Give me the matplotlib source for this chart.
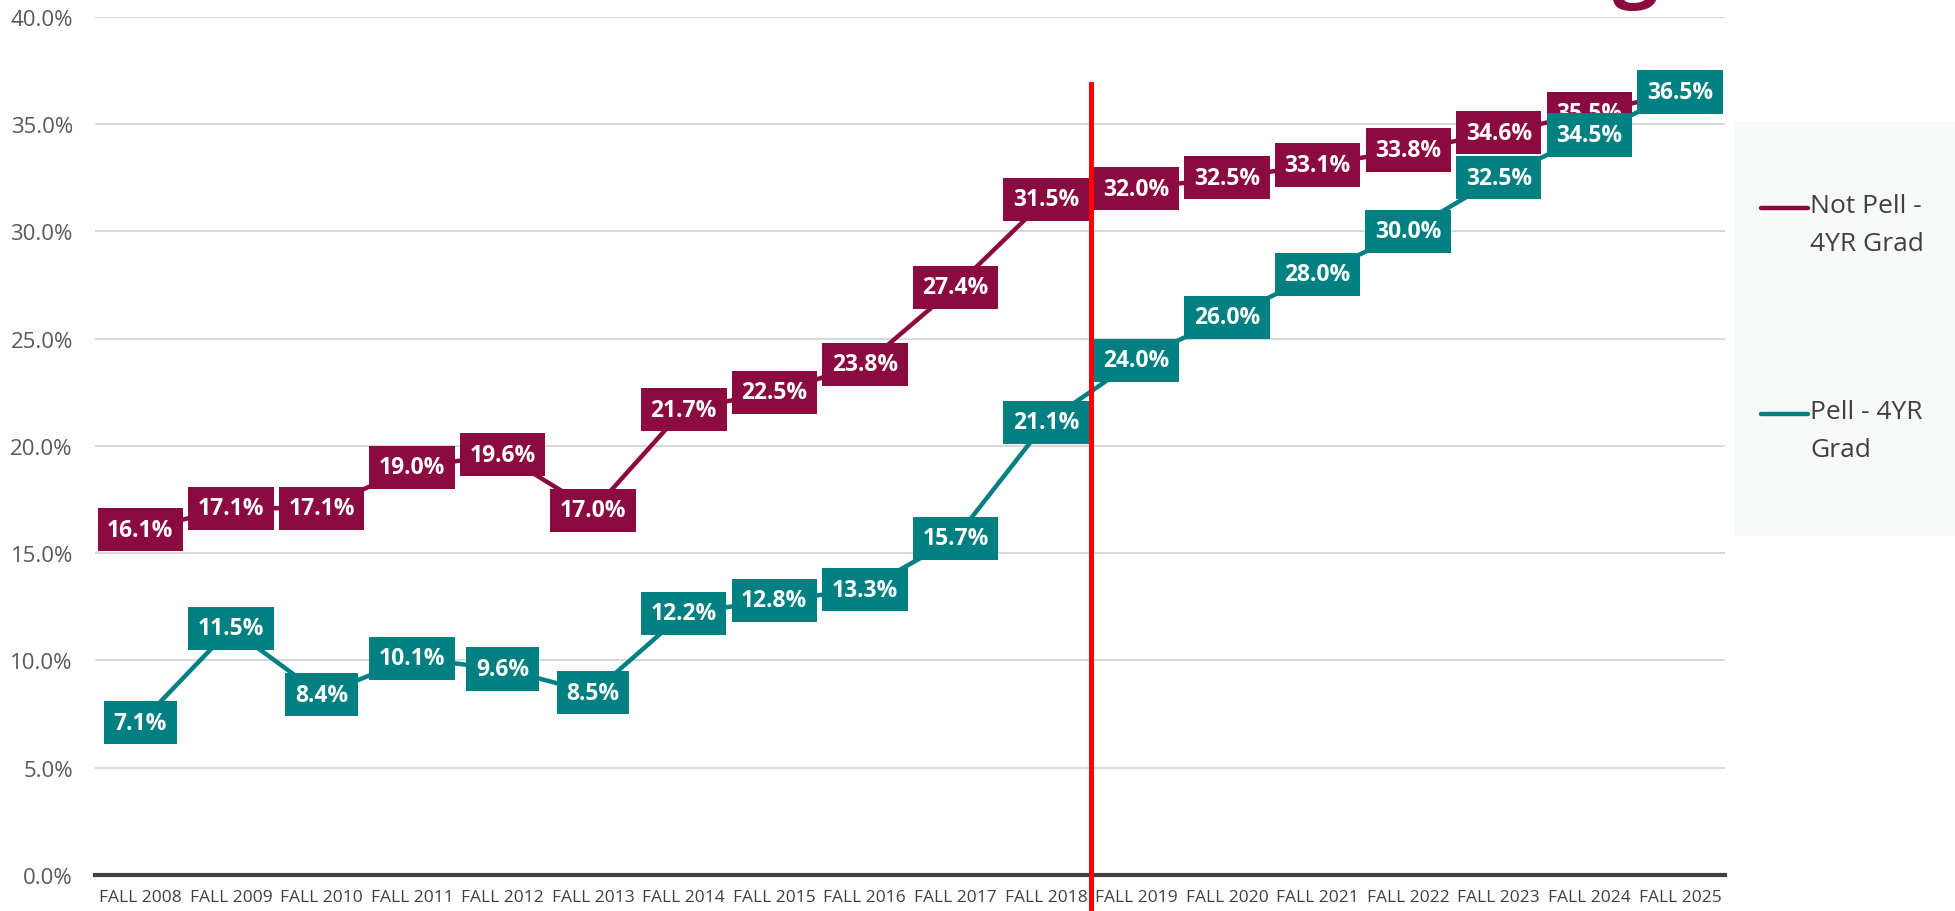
import matplotlib.pyplot as plt
from matplotlib.lines import Line2D
from matplotlib.ticker import FuncFormatter

years = [f"FALL {y}" for y in range(2008, 2026)]
not_pell = [16.1, 17.1, 17.1, 19.0, 19.6, 17.0, 21.7, 22.5, 23.8, 27.4,
            31.5, 32.0, 32.5, 33.1, 33.8, 34.6, 35.5, 36.5]
pell = [7.1, 11.5, 8.4, 10.1, 9.6, 8.5, 12.2, 12.8, 13.3, 15.7,
        21.1, 24.0, 26.0, 28.0, 30.0, 32.5, 34.5, 36.5]
series = [("Not Pell -\n4YR Grad", not_pell, "#8b0a3f"),
          ("Pell - 4YR\nGrad", pell, "#008080")]

plt.rcParams["font.family"] = ["Open Sans", "DejaVu Sans"]

fig = plt.figure(figsize=(19.56, 9.12), dpi=100)
ax = fig.add_axes([0.0486, 0.0395, 0.8334, 0.9408])

x = list(range(len(years)))
for name, vals, color in series:
    ax.plot(x, vals, color=color, lw=3.2, label=name, solid_capstyle="round")
    for xi, v in zip(x, vals):
        ax.text(xi, v, f"{v:.1f}%", ha="center", va="center", color="white",
                fontsize=16.5, fontweight="bold",
                bbox=dict(boxstyle="square,pad=0.42", fc=color, ec="none"))

# divider between actual and projected
ax.axvline(10.5, ymin=-0.042, ymax=0.922, color="#ff0000", lw=3.6, clip_on=False, zorder=5)

ax.set_xlim(-0.5, len(years) - 0.5)
ax.set_ylim(0, 40)
ax.set_yticks(range(0, 41, 5))
ax.yaxis.set_major_formatter(FuncFormatter(lambda v, p: f"{v:.1f}%"))
ax.set_xticks(x)
ax.set_xticklabels(years)
ax.tick_params(axis="y", length=0, labelsize=16, labelcolor="#595959", pad=16)
ax.tick_params(axis="x", length=0, labelsize=12.5, labelcolor="#404040", pad=10)
ax.grid(axis="y", color="#d9d9d9", lw=1.5)
ax.set_axisbelow(True)
for s in ["top", "right", "left"]:
    ax.spines[s].set_visible(False)
ax.spines["bottom"].set_color("#404040")
ax.spines["bottom"].set_linewidth(3)

# legend panel, handles level with the first line of each label
fig.patches.append(plt.Rectangle((0.887, 0.411), 0.113, 0.455, transform=fig.transFigure,
                                 facecolor="#f8f9f9", edgecolor="none", zorder=0))
for (name, vals, color), y in zip(series, [0.771, 0.545]):
    fig.add_artist(Line2D([0.9005, 0.9245], [y, y], transform=fig.transFigure,
                          color=color, lw=3.2, solid_capstyle="round"))
    fig.text(0.9255, y + 0.016, name, ha="left", va="top", fontsize=19,
             color="#404040", linespacing=1.68)

# cut-off title fragment at the top
fig.text(0.836, 1.0085, "g", ha="center", va="baseline", color="#8b0a3f",
         fontsize=58, fontweight="bold")

fig.savefig("out.png", dpi=100)
